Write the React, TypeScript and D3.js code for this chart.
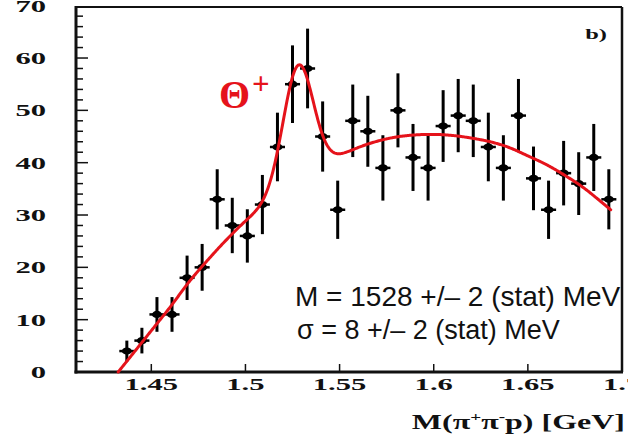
import React from 'react';
import * as d3 from 'd3';

// ---- data ----
const binCenters = [
  1.437, 1.445, 1.453, 1.461, 1.469, 1.477, 1.485, 1.493, 1.501, 1.509,
  1.517, 1.525, 1.533, 1.541, 1.549, 1.557, 1.565, 1.573, 1.581, 1.589,
  1.597, 1.605, 1.613, 1.621, 1.629, 1.637, 1.645, 1.653, 1.661, 1.669,
  1.677, 1.685, 1.693,
];
const counts = [
  4, 6, 11, 11, 18, 20, 33, 28, 26, 32,
  43, 55, 58, 45, 31, 48, 46, 39, 50, 41,
  39, 47, 49, 48, 43, 39, 49, 37, 31, 38,
  36, 41, 33,
];
const binHalfWidth = 0.004;

const yTickValues = [0, 10, 20, 30, 40, 50, 60, 70];
const yTickLabels = ['0', '10', '20', '30', '40', '50', '60', '70'];
const yMinorStep = 2;
const xTickValues = [1.45, 1.5, 1.55, 1.6, 1.65, 1.7];
const xTickLabels = ['1.45', '1.5', '1.55', '1.6', '1.65', '1.7'];

// fit: gaussian peak + background (background read at knots)
const peakMass = 1.528;
const peakSigma = 0.008;
const peakAmplitude = 22.5;
const bgKnotX = [1.4324, 1.44, 1.45, 1.46, 1.47, 1.48, 1.49, 1.5, 1.51, 1.52, 1.53, 1.54, 1.55, 1.56, 1.57, 1.58, 1.59, 1.6, 1.61, 1.62, 1.63, 1.64, 1.65, 1.66, 1.67, 1.68, 1.69, 1.694];
const bgKnotY = [0, 3.4, 7.9, 12.4, 17.2, 21.4, 25.3, 28.8, 31.6, 34.2, 36.6, 39.0, 41.2, 42.9, 44.1, 44.9, 45.3, 45.4, 45.2, 44.7, 44.0, 42.9, 41.3, 39.6, 37.5, 35.1, 32.2, 31.0];

const statLines = ['M = 1528 +/\u2013 2 (stat) MeV', '\u03c3 = 8 +/\u2013 2 (stat) MeV'];

// ---- layout ----
const W = 628;
const H = 436;
const xDomain: [number, number] = [1.41, 1.7];
const yDomainTop = 69.75;
const plot = { left: 76, right: 622, top: 7, bottom: 372 };

function bgAt(x: number): number {
  const n = bgKnotX.length;
  let i = d3.bisectRight(bgKnotX, x) - 1;
  i = Math.max(0, Math.min(n - 2, i));
  const x0 = bgKnotX[i], x1 = bgKnotX[i + 1];
  const y0 = bgKnotY[i], y1 = bgKnotY[i + 1];
  const tan = (k: number) => {
    if (k <= 0) return (bgKnotY[1] - bgKnotY[0]) / (bgKnotX[1] - bgKnotX[0]);
    if (k >= n - 1) return (bgKnotY[n - 1] - bgKnotY[n - 2]) / (bgKnotX[n - 1] - bgKnotX[n - 2]);
    return (bgKnotY[k + 1] - bgKnotY[k - 1]) / (bgKnotX[k + 1] - bgKnotX[k - 1]);
  };
  const h = x1 - x0;
  const t = (x - x0) / h;
  const t2 = t * t, t3 = t2 * t;
  return (2 * t3 - 3 * t2 + 1) * y0 + (t3 - 2 * t2 + t) * h * tan(i) + (-2 * t3 + 3 * t2) * y1 + (t3 - t2) * h * tan(i + 1);
}
function fitAt(x: number): number {
  const d = (x - peakMass) / peakSigma;
  return bgAt(x) + peakAmplitude * Math.exp(-0.5 * d * d);
}

const serif = '"Liberation Serif", "Times New Roman", serif';
const sans = '"Liberation Sans", Arial, Helvetica, sans-serif';
const red = '#e5131b';

const Stretched = ({ x, y, sx, anchor, size, children }: any) => (
  <g transform={`translate(${x},${y}) scale(${sx},1)`}>
    <text x={0} y={0} textAnchor={anchor} fontFamily={serif} fontWeight="bold" fontSize={size} fill="#111">
      {children}
    </text>
  </g>
);

export default function App() {
  const x = d3.scaleLinear().domain(xDomain).range([plot.left, plot.right]);
  const y = d3.scaleLinear().domain([0, yDomainTop]).range([plot.bottom, plot.top]);

  const samples = d3.range(bgKnotX[0], bgKnotX[bgKnotX.length - 1] + 1e-9, 0.0004);
  const line = d3
    .line<number>()
    .x((d) => x(d))
    .y((d) => y(Math.max(0, fitAt(d))))
    .curve(d3.curveLinear);
  const fitPath = line(samples) || '';

  const minorTicks = d3.range(0, yDomainTop, yMinorStep).filter((v) => v % 10 !== 0);

  return (
    <svg width={W} height={H} style={{ position: 'absolute', left: 0, top: 0, background: '#fff' }}>
      <rect x={0} y={0} width={W} height={H} fill="#fff" />
      {/* frame */}
      <line x1={plot.left} x2={plot.right} y1={plot.top} y2={plot.top} stroke="#111" strokeWidth={2} />
      <line x1={plot.right} x2={plot.right} y1={plot.top} y2={plot.bottom} stroke="#111" strokeWidth={2.5} />
      <line x1={plot.left} x2={plot.left} y1={plot.top - 1} y2={plot.bottom + 1.5} stroke="#111" strokeWidth={3} />
      <line x1={plot.left - 1.5} x2={plot.right + 1} y1={plot.bottom} y2={plot.bottom} stroke="#111" strokeWidth={3} />

      {/* y ticks */}
      {yTickValues.map((v, i) => (
        <g key={'yt' + v}>
          {v > 0 && v < yDomainTop && (
            <line x1={plot.left} x2={plot.left + 12} y1={y(v)} y2={y(v)} stroke="#111" strokeWidth={1.5} />
          )}
          <Stretched x={46} y={y(v) + 6} sx={1.8} anchor="end" size={17}>
            {yTickLabels[i]}
          </Stretched>
        </g>
      ))}
      {minorTicks.map((v) => (
        <line key={'ym' + v} x1={plot.left} x2={plot.left + 7} y1={y(v)} y2={y(v)} stroke="#111" strokeWidth={1.5} />
      ))}

      {/* x ticks */}
      {xTickValues.map((v, i) => (
        <g key={'xt' + v}>
          <line x1={x(v)} x2={x(v)} y1={plot.bottom} y2={plot.bottom - 8} stroke="#111" strokeWidth={1.5} />
          <Stretched x={x(v)} y={390} sx={1.8} anchor="middle" size={17}>
            {xTickLabels[i]}
          </Stretched>
        </g>
      ))}

      {/* axis title */}
      <g transform={`translate(625,429) scale(1.6,1)`}>
        <text x={0} y={0} textAnchor="end" fontFamily={serif} fontWeight="bold" fontSize={20} fill="#111">
          M(π<tspan dy={-8} fontSize={12}>+</tspan>
          <tspan dy={8}>π</tspan>
          <tspan dy={-8} fontSize={12}>-</tspan>
          <tspan dy={8}>p) [GeV]</tspan>
        </text>
      </g>

      {/* panel label */}
      <Stretched x={607} y={39} sx={1.75} anchor="end" size={14}>
        b)
      </Stretched>

      {/* data points */}
      {binCenters.map((c, i) => {
        const n = counts[i];
        const e = Math.sqrt(n);
        const cx = x(c);
        const cy = y(n);
        return (
          <g key={'p' + i}>
            <line x1={cx} x2={cx} y1={y(Math.min(yDomainTop, n + e))} y2={y(Math.max(0, n - e))} stroke="#000" strokeWidth={3} />
            <line x1={x(c - binHalfWidth)} x2={x(c + binHalfWidth)} y1={cy} y2={cy} stroke="#000" strokeWidth={2.5} />
            <ellipse cx={cx} cy={cy} rx={5} ry={3.6} fill="#000" />
          </g>
        );
      })}

      {/* fit */}
      <path d={fitPath} fill="none" stroke={red} strokeWidth={3} strokeLinejoin="round" strokeLinecap="round" />

      {/* Theta+ annotation */}
      <text x={x(1.486)} y={y(50.4)} fontFamily={serif} fontWeight="bold" fontSize={40} fill={red}>
        Θ
      </text>
      <text x={x(1.5035)} y={y(53.2)} fontFamily={serif} fontWeight="bold" fontSize={31} fill={red}>
        +
      </text>

      {/* fit results */}
      {statLines.map((s, i) => (
        <text key={'s' + i} x={i === 0 ? 295 : 297} y={i === 0 ? 306 : 339} fontFamily={sans} fontSize={i === 0 ? 28 : 27} fill="#111">
          {s}
        </text>
      ))}
    </svg>
  );
}
